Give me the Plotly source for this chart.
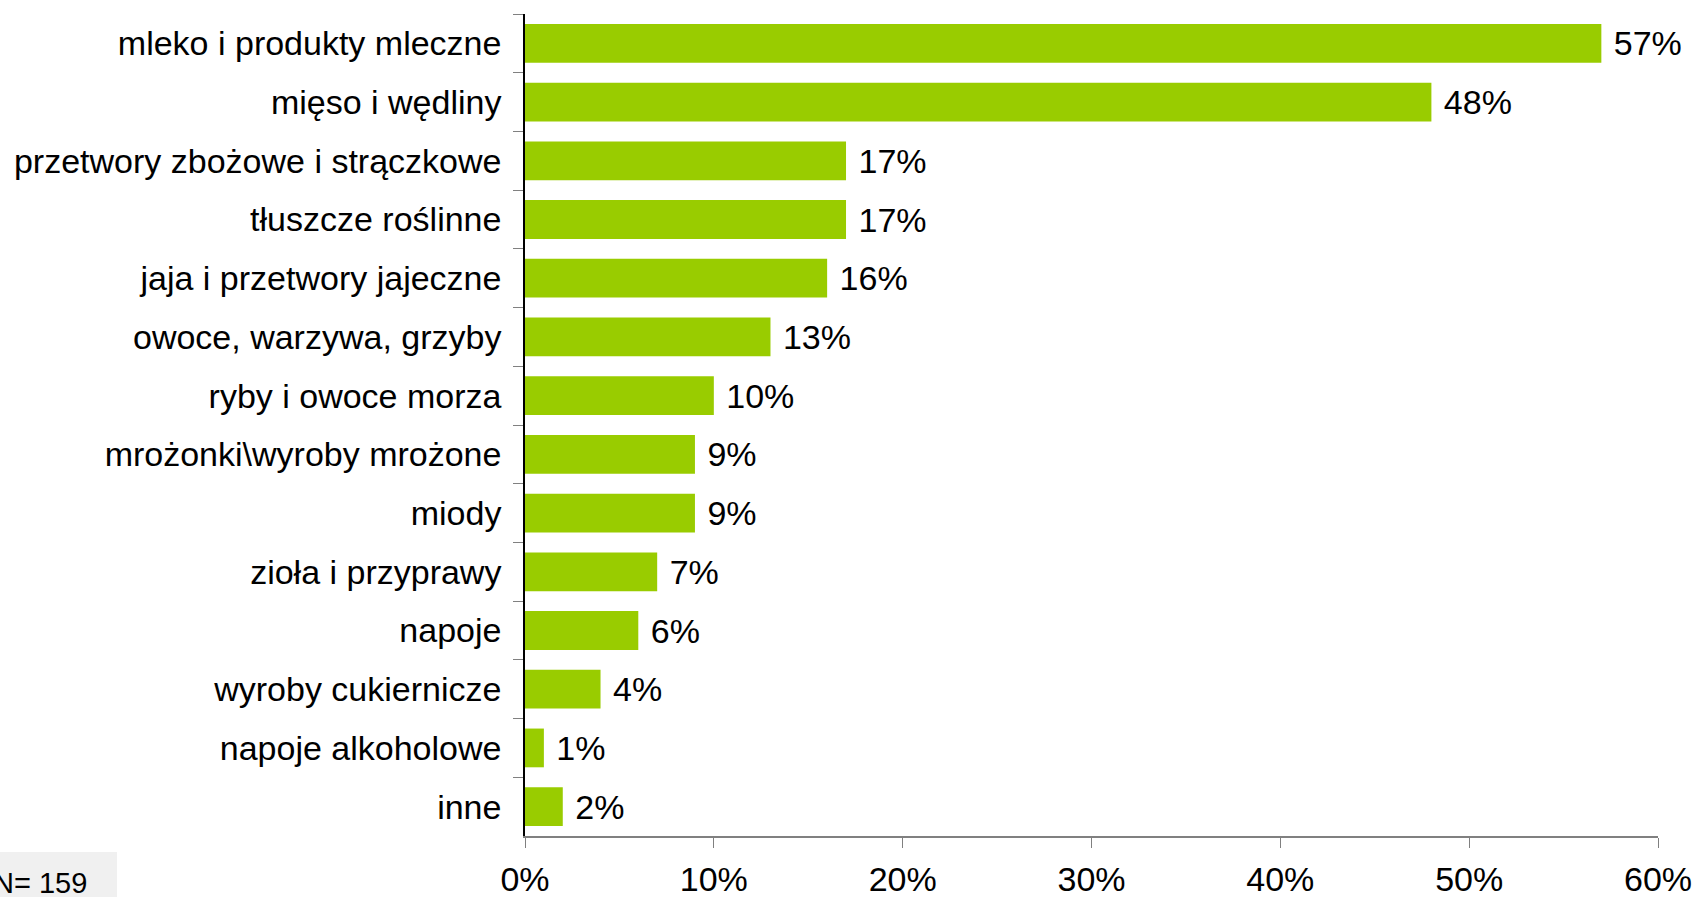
import plotly.graph_objects as go

categories = [
    "mleko i produkty mleczne",
    "mięso i wędliny",
    "przetwory zbożowe i strączkowe",
    "tłuszcze roślinne",
    "jaja i przetwory jajeczne",
    "owoce, warzywa, grzyby",
    "ryby i owoce morza",
    "mrożonki\\wyroby mrożone",
    "miody",
    "zioła i przyprawy",
    "napoje",
    "wyroby cukiernicze",
    "napoje alkoholowe",
    "inne",
]
values = [57, 48, 17, 17, 16, 13, 10, 9, 9, 7, 6, 4, 1, 2]
x_ticks = [0, 10, 20, 30, 40, 50, 60]
note = "N= 159"

W, H = 1695, 897
L, R, T, B = 525, 37, 14, 61
pw, ph = W - L - R, H - T - B

def px_x(p):
    return (p - L) / pw

def px_y(p):
    return (H - B - p) / ph

FONT = "Liberation Sans, Arial, sans-serif"
FS = 34

fig = go.Figure(
    go.Bar(
        x=values,
        y=categories,
        orientation="h",
        marker=dict(color="#99CC00", line=dict(width=0)),
        text=[f" {v}%" for v in values],
        textposition="outside",
        textfont=dict(family=FONT, size=FS, color="black"),
        cliponaxis=False,
        hoverinfo="skip",
    )
)

fig.update_layout(
    width=W,
    height=H,
    margin=dict(l=L, r=R, t=T, b=B, pad=0),
    plot_bgcolor="white",
    paper_bgcolor="white",
    bargap=0.34,
    showlegend=False,
    font=dict(family=FONT, size=FS, color="black"),
    xaxis=dict(
        range=[0, 60],
        tickvals=x_ticks,
        ticktext=[f"{v}%" for v in x_ticks],
        ticks="outside",
        ticklen=10,
        tickcolor="#808080",
        showline=True,
        linecolor="#808080",
        linewidth=1.5,
        showgrid=False,
        zeroline=False,
        tickfont=dict(family=FONT, size=FS, color="black"),
        ticklabelstandoff=2,
        automargin=False,
    ),
    yaxis=dict(
        autorange="reversed",
        ticks="outside",
        tickson="boundaries",
        ticklen=10,
        tickcolor="#808080",
        showline=True,
        linecolor="black",
        linewidth=1.5,
        showgrid=False,
        zeroline=False,
        tickfont=dict(family=FONT, size=FS, color="black"),
        ticklabelstandoff=15,
        automargin=False,
    ),
    shapes=[
        dict(
            type="rect",
            xref="paper",
            yref="paper",
            x0=px_x(-5),
            x1=px_x(117),
            y0=px_y(900),
            y1=px_y(852),
            fillcolor="#F0F0F0",
            line=dict(width=0),
            layer="below",
        )
    ],
    annotations=[
        dict(
            text=note,
            xref="paper",
            yref="paper",
            x=px_x(89),
            y=px_y(883),
            xanchor="right",
            yanchor="middle",
            showarrow=False,
            font=dict(family=FONT, size=29, color="black"),
        )
    ],
)

fig.write_html("out.html")
